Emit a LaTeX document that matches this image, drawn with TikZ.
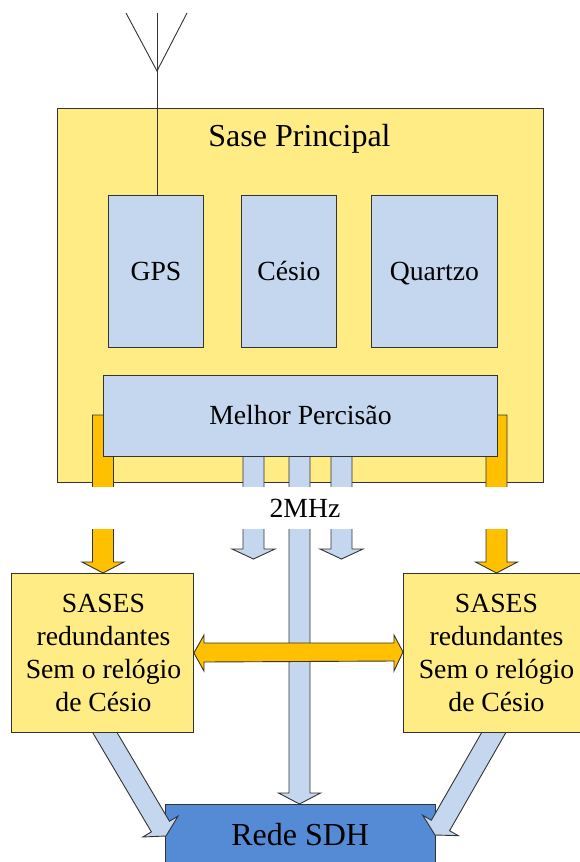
\documentclass[tikz,border=0pt]{standalone}
\usepackage{fontspec}
\setmainfont{Liberation Serif}
\usetikzlibrary{calc}
\definecolor{ylw}{HTML}{FFEC85}
\definecolor{lblue}{HTML}{C5D7EF}
\definecolor{orng}{HTML}{FFC000}
\definecolor{dblue}{HTML}{558AD5}
\definecolor{edge}{HTML}{333333}
\tikzset{
  x=1pt,y=-1pt,
  box/.style={draw=edge,line width=0.9pt,anchor=north west,inner sep=0pt,align=center,font=\fontsize{27.7}{33}\selectfont},
  ybox/.style={box,fill=ylw},
  bbox/.style={box,fill=lblue,oneline},
  oneline/.style={text height=22pt,text depth=4pt},
  blockarrow/.style={draw=edge,line width=0.9pt,line join=miter},
  thinline/.style={draw=edge,line width=0.9pt},
  stack/.style={align=center,inner sep=0pt,font=\fontsize{27.7}{33}\selectfont}
}
% #1 style, #2 tail, #3 tip, #4 half shaft, #5 half head, #6 head length
\newcommand{\blockarr}[6]{%
  \coordinate (hb) at ($(#3)!#6!(#2)$);
  \draw[blockarrow,#1]
    ($(#2)!#4!-90:(#3)$) -- ($(hb)!#4!-90:(#3)$) -- ($(hb)!#5!-90:(#3)$) -- (#3)
    -- ($(hb)!#5!90:(#3)$) -- ($(hb)!#4!90:(#3)$) -- ($(#2)!#4!90:(#3)$) -- cycle;
}
\begin{document}
\begin{tikzpicture}
\useasboundingbox (0,0) rectangle (579,862);
% main box
\node[ybox,minimum width=486pt,minimum height=374pt] (main) at (57,108) {};
\node[font=\fontsize{32}{36}\selectfont,text height=25pt,text depth=5pt,inner sep=0pt] (title) at (299.5,136) {Sase Principal};
% orange arrows (behind selector)
\coordinate (ol1) at (103,415); \coordinate (ol2) at (103,573);
\coordinate (or1) at (496.5,415); \coordinate (or2) at (496.5,573);
\coordinate (bl1) at (253.5,440); \coordinate (bl2) at (253.5,559);
\coordinate (bc1) at (299.5,440); \coordinate (bc2) at (299.5,804);
\coordinate (br1) at (341.5,440); \coordinate (br2) at (341.5,559);
\blockarr{fill=orng}{ol1}{ol2}{10.5pt}{21pt}{11pt}
\blockarr{fill=orng}{or1}{or2}{10.5pt}{21pt}{11pt}
\blockarr{fill=lblue}{bl1}{bl2}{10.5pt}{21.5pt}{10pt}
\blockarr{fill=lblue}{br1}{br2}{10.5pt}{21.5pt}{10pt}
\blockarr{fill=lblue}{bc1}{bc2}{10.5pt}{21pt}{11pt}
% inner boxes
\node[bbox,minimum width=95pt,minimum height=152pt] (gps) at (108,195) {GPS};
\node[bbox,minimum width=95pt,minimum height=152pt] (cesio) at (241,195) {Césio};
\node[bbox,minimum width=126pt,minimum height=152pt] (quartzo) at (371,195) {Quartzo};
\node[bbox,minimum width=394pt,minimum height=81pt] (melhor) at (103,375) {Melhor Percisão};
% white label band
\node[fill=white,anchor=north west,minimum width=420pt,minimum height=42pt,inner sep=0pt] (band) at (90,487) {};
\node[font=\fontsize{27.7}{30}\selectfont,oneline,inner sep=0pt] (mhz) at (305,508) {2MHz};
% antenna
\coordinate (a0) at (157,71);
\coordinate (at) at (157,13); \coordinate (al) at (126,13); \coordinate (ar) at (187,13);
\draw[thinline] (at) -- (a0 |- gps.north);
\draw[thinline] (al) -- (a0) -- (ar);
% diagonal arrows
\coordinate (dl1) at (101,726); \coordinate (dl2) at (166,836);
\coordinate (dr1) at (497.5,726); \coordinate (dr2) at (435,835);
\node[box,fill=dblue,minimum width=269.5pt,minimum height=60pt,font=\fontsize{32}{36}\selectfont,text height=27pt,text depth=5pt] (sdh) at (165,804) {Rede SDH};
\blockarr{fill=lblue}{dl1}{dl2}{10.5pt}{20.5pt}{11pt}
\blockarr{fill=lblue}{dr1}{dr2}{10.5pt}{20.5pt}{11pt}
% redundant boxes
\node[ybox,minimum width=182pt,minimum height=159pt] (sl) at (11,573) {};
\node[stack] (slt) at (103.5,652.5) {SASES\\redundantes\\Sem o relógio\\de Césio};
\node[ybox,minimum width=187pt,minimum height=159pt] (sr) at (403,573) {};
\node[stack] (srt) at (496.5,652.5) {SASES\\redundantes\\Sem o relógio\\de Césio};
% double arrow
\draw[blockarrow,fill=orng] (sl.east |- 0,653) -- (204,635) -- (204,643) -- (394,643) -- (394,635)
  -- (sr.west |- 0,652) -- (394,671) -- (394,661) -- (204,662) -- (204,671) -- cycle;
\end{tikzpicture}
\end{document}
